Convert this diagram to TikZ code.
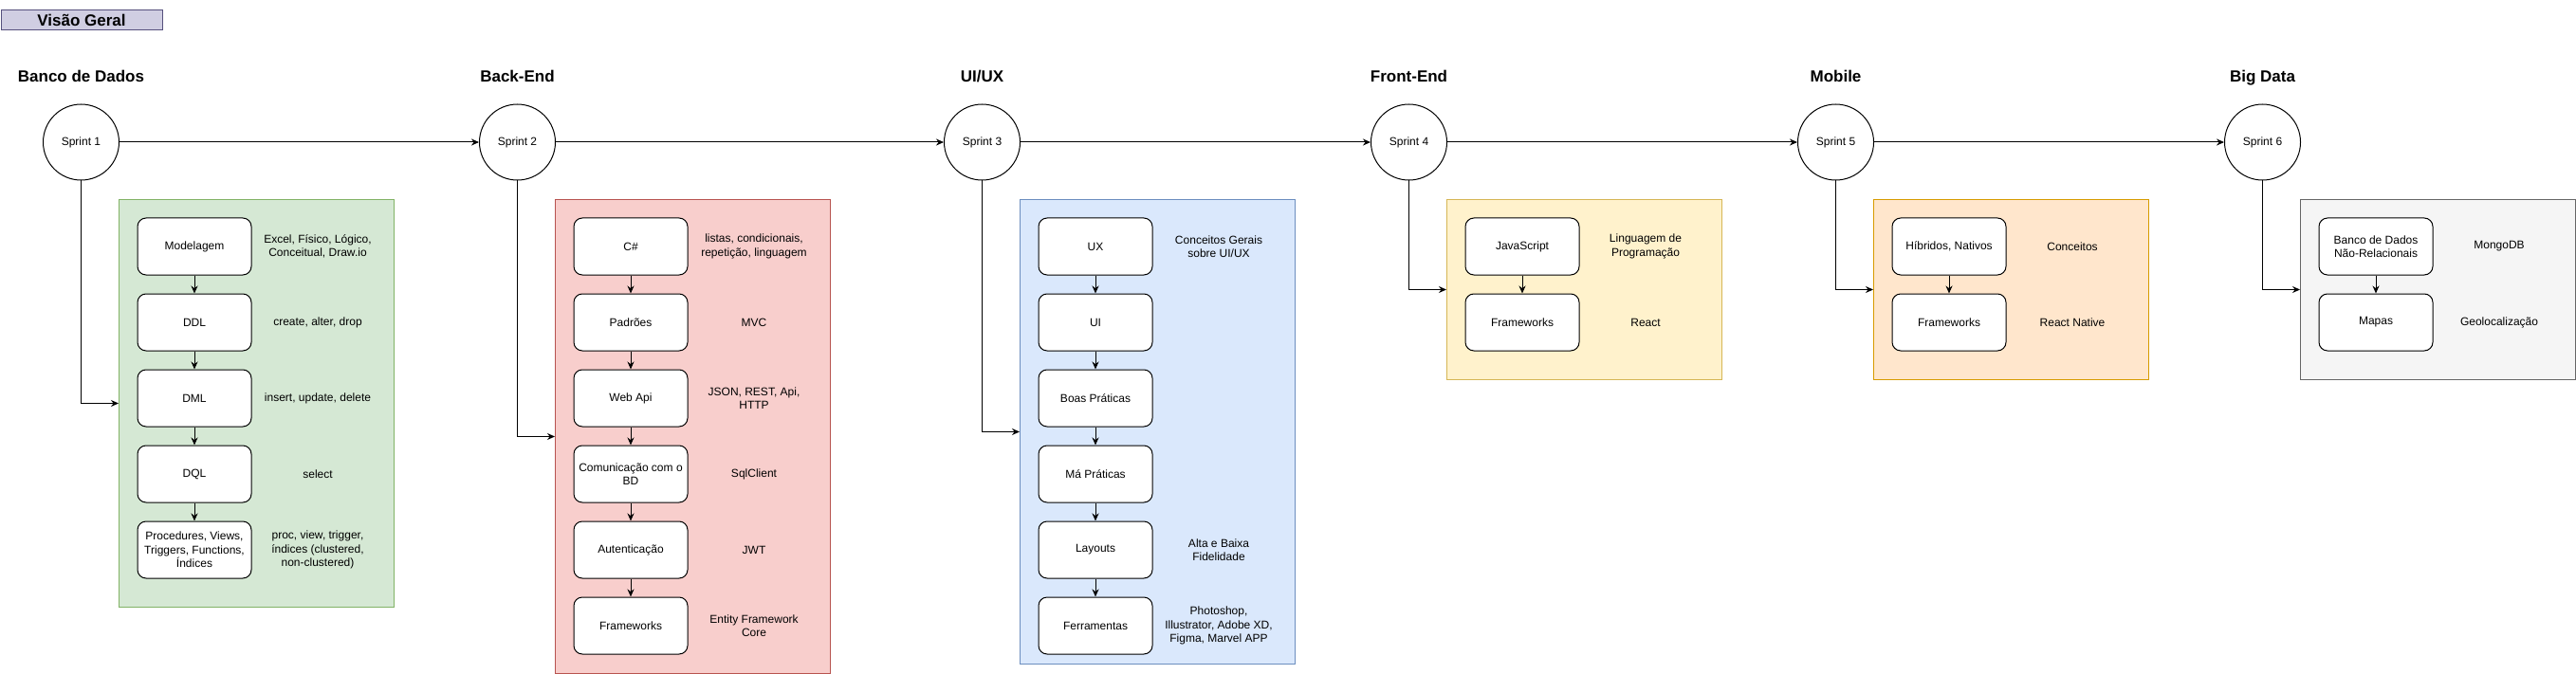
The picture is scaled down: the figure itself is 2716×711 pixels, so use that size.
\documentclass[tikz,border=0pt]{standalone}
\usepackage{fontspec}
\setmainfont{Liberation Sans}
\usetikzlibrary{arrows.meta}
\definecolor{lilas}{HTML}{D0CEE2}\definecolor{lilasb}{HTML}{56517E}
\definecolor{verde}{HTML}{D5E8D4}\definecolor{verdeb}{HTML}{82B366}
\definecolor{vermelho}{HTML}{F8CECC}\definecolor{vermelhob}{HTML}{B85450}
\definecolor{azul}{HTML}{DAE8FC}\definecolor{azulb}{HTML}{6C8EBF}
\definecolor{amarelo}{HTML}{FFF2CC}\definecolor{amarelob}{HTML}{D6B656}
\definecolor{laranja}{HTML}{FFE6CC}\definecolor{laranjab}{HTML}{D79B00}
\definecolor{cinza}{HTML}{F5F5F5}\definecolor{cinzab}{HTML}{666666}
\begin{document}
\begin{tikzpicture}[x=1pt,y=-1pt,>={Stealth[length=8pt,width=7pt]},line width=1pt,
	font=\fontsize{12}{14.4}\selectfont,
	sprint/.style={circle,draw,minimum size=80pt,inner sep=0pt},
	titulo/.style={anchor=base,font=\fontsize{17}{20}\selectfont\bfseries},
	grupo/.style={draw,minimum width=290pt,anchor=north west,inner sep=0pt},
	etapa/.style={draw,fill=white,rounded corners=9pt,minimum width=120pt,minimum height=60pt,align=center,inner sep=1pt},
	desc/.style={align=center,inner sep=0pt}]
	\useasboundingbox (0,0) rectangle (2716,711);
	% cabecalho
	\node[draw=lilasb,fill=lilas,minimum width=170pt,minimum height=21pt,anchor=north west,inner sep=0pt,font=\fontsize{17}{20}\selectfont\bfseries] (visao) at (0.5,10) {Visão Geral};
	% sprints
	\node[titulo] (t1) at (85.5,87) {Banco de Dados};
	\node[titulo] (t2) at (545.5,87) {Back-End};
	\node[titulo] (t3) at (1035.5,87) {UI/UX};
	\node[titulo] (t4) at (1485.5,87) {Front-End};
	\node[titulo] (t5) at (1935.5,87) {Mobile};
	\node[titulo] (t6) at (2385.5,87) {Big Data};
	\node[sprint] (s1) at (85.5,150) {Sprint 1};
	\node[sprint] (s2) at (545.5,150) {Sprint 2};
	\node[sprint] (s3) at (1035.5,150) {Sprint 3};
	\node[sprint] (s4) at (1485.5,150) {Sprint 4};
	\node[sprint] (s5) at (1935.5,150) {Sprint 5};
	\node[sprint] (s6) at (2385.5,150) {Sprint 6};
	\draw[->] (s1)--(s2);
	\draw[->] (s2)--(s3);
	\draw[->] (s3)--(s4);
	\draw[->] (s4)--(s5);
	\draw[->] (s5)--(s6);
	% grupos
	\node[grupo,draw=verdeb,fill=verde,minimum height=430pt] (g1) at (125,210) {};
	\node[grupo,draw=vermelhob,fill=vermelho,minimum height=500pt] (g2) at (585,210) {};
	\node[grupo,draw=azulb,fill=azul,minimum height=490pt] (g3) at (1075,210) {};
	\node[grupo,draw=amarelob,fill=amarelo,minimum height=190pt] (g4) at (1525,210) {};
	\node[grupo,draw=laranjab,fill=laranja,minimum height=190pt] (g5) at (1975,210) {};
	\node[grupo,draw=cinzab,fill=cinza,minimum height=190pt] (g6) at (2425,210) {};
	\draw[->] (s1)|-(g1.west);
	\draw[->] (s2)|-(g2.west);
	\draw[->] (s3)|-(g3.west);
	\draw[->] (s4)|-(g4.west);
	\draw[->] (s5)|-(g5.west);
	\draw[->] (s6)|-(g6.west);
	% banco de dados
	\node[etapa] (bd1) at (205,260) {Modelagem};
	\node[etapa] (bd2) at (205,340) {DDL};
	\node[etapa] (bd3) at (205,420) {DML};
	\node[etapa] (bd4) at (205,500) {DQL};
	\node[etapa] (bd5) at (205,580) {Procedures, Views,\\Triggers, Functions,\\Índices};
	\node[desc] (dbd1) at (335,260) {Excel, Físico, Lógico,\\Conceitual, Draw.io};
	\node[desc] (dbd2) at (335,340) {create, alter, drop};
	\node[desc] (dbd3) at (335,420) {insert, update, delete};
	\node[desc] (dbd4) at (335,500) {select};
	\node[desc] (dbd5) at (335,580) {proc, view, trigger,\\índices (clustered,\\non-clustered)};
	\draw[->] (bd1)--(bd2);
	\draw[->] (bd2)--(bd3);
	\draw[->] (bd3)--(bd4);
	\draw[->] (bd4)--(bd5);
	% back-end
	\node[etapa] (be1) at (665,260) {C\#};
	\node[etapa] (be2) at (665,340) {Padrões};
	\node[etapa] (be3) at (665,420) {Web Api};
	\node[etapa] (be4) at (665,500) {Comunicação com o\\BD};
	\node[etapa] (be5) at (665,580) {Autenticação};
	\node[etapa] (be6) at (665,660) {Frameworks};
	\node[desc] (dbe1) at (795,260) {listas, condicionais,\\repetição, linguagem};
	\node[desc] (dbe2) at (795,340) {MVC};
	\node[desc] (dbe3) at (795,420) {JSON, REST, Api,\\HTTP};
	\node[desc] (dbe4) at (795,500) {SqlClient};
	\node[desc] (dbe5) at (795,580) {JWT};
	\node[desc] (dbe6) at (795,660) {Entity Framework\\Core};
	\draw[->] (be1)--(be2);
	\draw[->] (be2)--(be3);
	\draw[->] (be3)--(be4);
	\draw[->] (be4)--(be5);
	\draw[->] (be5)--(be6);
	% ui/ux
	\node[etapa] (ux1) at (1155,260) {UX};
	\node[etapa] (ux2) at (1155,340) {UI};
	\node[etapa] (ux3) at (1155,420) {Boas Práticas};
	\node[etapa] (ux4) at (1155,500) {Má Práticas};
	\node[etapa] (ux5) at (1155,580) {Layouts};
	\node[etapa] (ux6) at (1155,660) {Ferramentas};
	\node[desc] (dux1) at (1285,260) {Conceitos Gerais\\sobre UI/UX};
	\node[desc] (dux5) at (1285,580) {Alta e Baixa\\Fidelidade};
	\node[desc] (dux6) at (1285,660) {Photoshop,\\Illustrator, Adobe XD,\\Figma, Marvel APP};
	\draw[->] (ux1)--(ux2);
	\draw[->] (ux2)--(ux3);
	\draw[->] (ux3)--(ux4);
	\draw[->] (ux4)--(ux5);
	\draw[->] (ux5)--(ux6);
	% front-end
	\node[etapa] (fe1) at (1605,260) {JavaScript};
	\node[etapa] (fe2) at (1605,340) {Frameworks};
	\node[desc] (dfe1) at (1735,260) {Linguagem de\\Programação};
	\node[desc] (dfe2) at (1735,340) {React};
	\draw[->] (fe1)--(fe2);
	% mobile
	\node[etapa] (mo1) at (2055,260) {Híbridos, Nativos};
	\node[etapa] (mo2) at (2055,340) {Frameworks};
	\node[desc] (dmo1) at (2185,260) {Conceitos};
	\node[desc] (dmo2) at (2185,340) {React Native};
	\draw[->] (mo1)--(mo2);
	% big data
	\node[etapa] (bg1) at (2505,260) {Banco de Dados\\Não-Relacionais};
	\node[etapa] (bg2) at (2505,340) {Mapas};
	\node[desc] (dbg1) at (2635,260) {MongoDB};
	\node[desc] (dbg2) at (2635,340) {Geolocalização};
	\draw[->] (bg1)--(bg2);
\end{tikzpicture}
\end{document}
